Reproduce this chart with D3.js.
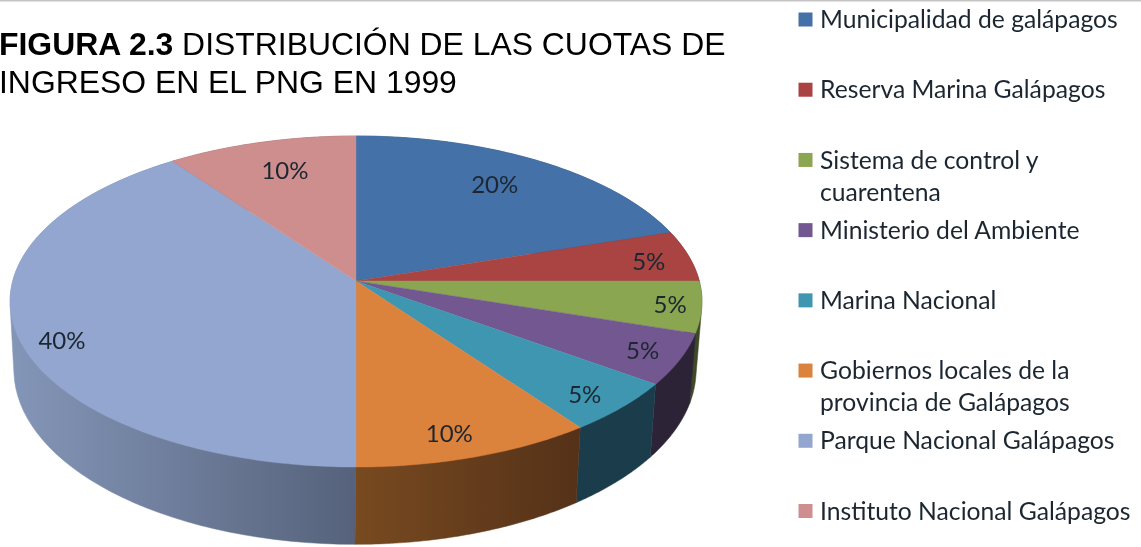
<!DOCTYPE html>
<html><head><meta charset="utf-8">
<script src="https://cdn.jsdelivr.net/npm/d3@7/dist/d3.min.js"></script>
<style>html,body{margin:0;padding:0;background:#fff;overflow:hidden}svg{display:block}</style>
</head><body><svg id="c" width="1141" height="547"></svg>
<script>
const categories = ["Municipalidad de galápagos","Reserva Marina Galápagos","Sistema de control y|cuarentena","Ministerio del Ambiente","Marina Nacional","Gobiernos locales de la|provincia de Galápagos","Parque Nacional Galápagos","Instituto Nacional Galápagos"];
const values = [20,5,5,5,5,10,40,10];
const topColors = ["#4471a7","#a94442","#8aa650","#735791","#3f96b0","#db823c","#92a6cf","#ce8e8d"];
const wallLeft  = ["#2f4e74","#752f2d","#3e4a25","#2c2337","#1b3c4a","#784a20","#8496b8","#8f6261"];
const wallRight = ["#2f4e74","#752f2d","#3e4a25","#2c2337","#1b3c4a","#543118","#56627b","#8f6261"];
const labelRadius = [.776,.875,.91,.89,.885,.873,.89,.778];
const labelNudgeDeg = [-1.8,.8,0,0,1.1,1.8,-4.9,1.1];

const svg = d3.select("#c");
const defs = svg.append("defs");
defs.append("filter").attr("id","soft").append("feGaussianBlur").attr("stdDeviation",0.45);
defs.append("filter").attr("id","softer").append("feGaussianBlur").attr("stdDeviation",0.25);
svg.append("rect").attr("x",0).attr("y",0).attr("width",1141).attr("height",1.5).attr("fill","#c4c4c4");

const pie = d3.pie().sort(null).value(d=>d)(values);
const k = 0.124;
const topDisc = {cx:356, cy:281, b:343.3, a:163};
const botDisc = {cx:355, cy:348, b:338.5, a:172};
const project = (disc,theta,r=1)=>{
  const u = r*Math.sin(theta), v = -r*Math.cos(theta), w = 1-k*v;
  return [disc.cx+disc.b*u/w, disc.cy+disc.a*v/w];
};
const rim = (disc,a0,a1)=>d3.range(0,61).map(i=>project(disc,a0+(a1-a0)*i/60));
const line = d3.line();

// walls, back to front
const order = d3.range(values.length).sort((i,j)=>{
  const mid = p=>-Math.cos((p.startAngle+p.endAngle)/2);
  return mid(pie[i])-mid(pie[j]);
});
order.forEach(i=>{
  const p = pie[i];
  const t = rim(topDisc,p.startAngle,p.endAngle), b = rim(botDisc,p.startAngle,p.endAngle);
  const hull = d3.polygonHull(t.concat(b));
  const xs = hull.map(d=>d[0]);
  const id = "w"+i;
  const g = defs.append("linearGradient").attr("id",id).attr("gradientUnits","userSpaceOnUse")
    .attr("x1",d3.min(xs)).attr("x2",d3.max(xs)).attr("y1",0).attr("y2",0);
  g.append("stop").attr("offset",0).attr("stop-color",wallLeft[i]);
  g.append("stop").attr("offset",1).attr("stop-color",wallRight[i]);
  svg.append("path").attr("d",line(hull)+"Z").attr("fill",`url(#${id})`).attr("stroke",`url(#${id})`).attr("stroke-width",.5);
});
// top
pie.forEach((p,i)=>{
  const pts = [[topDisc.cx,topDisc.cy]].concat(rim(topDisc,p.startAngle,p.endAngle));
  svg.append("path").attr("d",line(pts)+"Z").attr("fill",topColors[i]).attr("stroke",topColors[i]).attr("stroke-width",.4);
});
// data labels
const fmt = d3.format(".0%"), total = d3.sum(values);
pie.forEach((p,i)=>{
  const th = (p.startAngle+p.endAngle)/2 + labelNudgeDeg[i]*Math.PI/180;
  const [x,y] = project(topDisc,th,labelRadius[i]);
  svg.append("text").attr("x",x).attr("y",y).attr("dy","0.36em").attr("text-anchor","middle")
    .attr("font-family","Lato").attr("font-size",24).attr("fill","#1d2730").attr("filter","url(#soft)")
    .text(fmt(values[i]/total));
});
// title
const title = svg.append("g").attr("font-family","'Liberation Sans'").attr("font-size",31.9).attr("fill","#000").attr("filter","url(#softer)");
const t1 = title.append("text").attr("x",-1).attr("y",55);
t1.append("tspan").attr("font-weight","bold").text("FIGURA 2.3");
t1.append("tspan").text(" DISTRIBUCIÓN DE LAS CUOTAS DE");
title.append("text").attr("x",-1).attr("y",93).text("INGRESO EN EL PNG EN 1999");
// legend
const legendY = d3.scaleLinear().domain([0,7]).range([19.5,511]);
categories.forEach((c,i)=>{
  const y = legendY(i);
  svg.append("rect").attr("x",798.5).attr("y",y-7).attr("width",14).attr("height",14).attr("fill",topColors[i]);
  c.split("|").forEach((s,j)=>{
    svg.append("text").attr("x",820).attr("y",y+8.7+j*32).attr("font-family","Lato").attr("font-size",24.7)
      .attr("fill","#1d2730").attr("filter","url(#soft)").text(s);
  });
});
</script></body></html>
